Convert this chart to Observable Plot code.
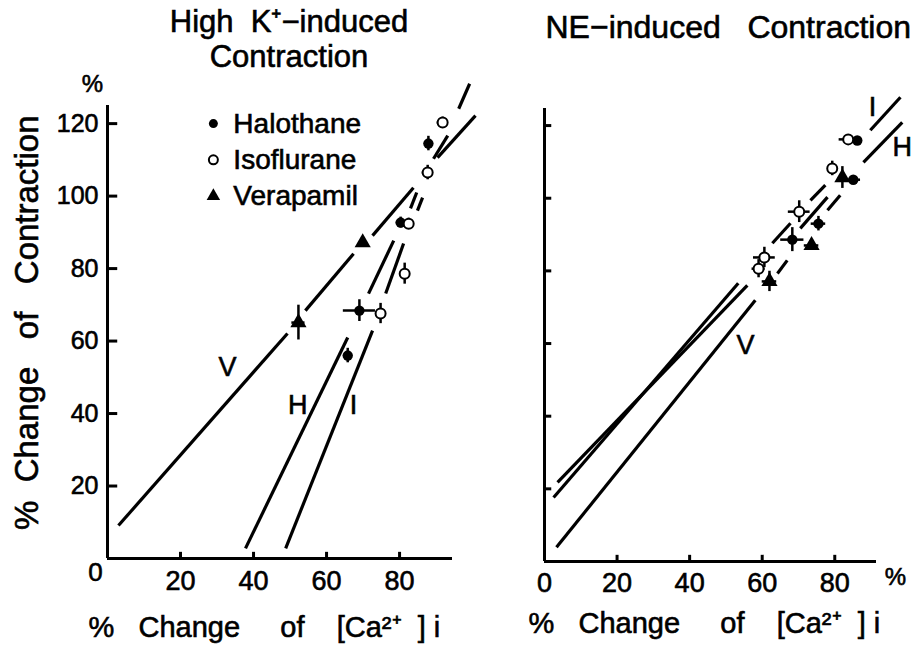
<!DOCTYPE html>
<html><head><meta charset="utf-8">
<script src="https://cdn.jsdelivr.net/npm/d3@7"></script>
<script src="https://cdn.jsdelivr.net/npm/@observablehq/plot@0.6"></script>
<style>
body{margin:0;background:#fff;}
#wrap{position:relative;width:915px;height:649px;overflow:hidden;background:#fff;}
#wrap svg{position:absolute;top:0;}
svg text{white-space:pre;stroke:#000;stroke-width:0.6px;}
g[aria-label="x-axis tick label"] text{font-size:27px;}
g[aria-label="y-axis tick label"] text{font-size:25px;}
</style></head><body><div id="wrap"></div>
<script>
// ---------- tick labels ----------
const xTicksLeft = [20, 40, 60, 80];
const xTicksRight = [0, 20, 40, 60, 80];
const yTicks = [20, 40, 60, 80, 100, 120];

// ---------- texts ----------
const titleLeft1 = "High  K⁺−induced";
const titleLeft2 = "Contraction";
const titleRight = "NE−induced   Contraction";
const xTitle = "%   Change     of    [Ca²⁺  ] i";
const yTitle = "%  Change   of   Contraction";
const groups = ["Halothane", "Isoflurane", "Verapamil"];

// ---------- High K+ panel: points (x, y, x-error, y-error) ----------
const kHalothane = [
  {x: 65.8, y: 56.0, xe: 0, ye: 2},
  {x: 69.0, y: 68.4, xe: 4.4, ye: 3},
  {x: 80.3, y: 92.7, xe: 1.2, ye: 1.5},
  {x: 87.9, y: 114.5, xe: 0, ye: 2}
];
const kIsoflurane = [
  {x: 74.8, y: 67.6, xe: 0, ye: 2.8},
  {x: 81.4, y: 78.6, xe: 0, ye: 2.9},
  {x: 82.5, y: 92.4, xe: 1.2, ye: 1.5},
  {x: 87.7, y: 106.5, xe: 1.5, ye: 2},
  {x: 91.8, y: 120.3, xe: 1.5, ye: 1.5}
];
const kVerapamil = [
  {x: 52.3, y: 65.1, xe: 1.8, ye: 4.8},
  {x: 69.9, y: 87.2, xe: 0, ye: 1}
];
// regression lines, drawn as broken segments [x1, y1, x2, y2]
const kLineV = [[3.0, 9.1, 49.3, 62.1], [54.2, 68.4, 67.4, 84.1], [72.6, 89.1, 83.8, 102.3], [90.4, 110.6, 100.8, 122.2]];
const kLineH = [[37.8, 2.8, 65.8, 61.0], [71.5, 73.1, 78.4, 87.7], [83.0, 96.6, 84.7, 101.0], [89.3, 110.3, 93.2, 116.7]];
const kLineI = [[48.8, 2.8, 72.6, 62.9], [76.2, 73.1, 81.1, 86.9], [84.9, 96.0, 86.3, 99.6], [96.2, 124.1, 99.2, 131.0]];
const kLineLabels = [{t: "V", x: 32.9, y: 52.7}, {t: "H", x: 52.1, y: 42.2}, {t: "I", x: 67.4, y: 42.2}];

// ---------- NE panel ----------
const neHalothane = [
  {x: 86.2, y: 115.9, xe: 0, ye: 0},
  {x: 85.1, y: 105.1, xe: 2, ye: 0},
  {x: 75.5, y: 93.0, xe: 2, ye: 2},
  {x: 68.3, y: 88.6, xe: 3.2, ye: 3.3}
];
const neIsoflurane = [
  {x: 83.7, y: 116.2, xe: 2.5, ye: 0},
  {x: 79.3, y: 108.2, xe: 0, ye: 2},
  {x: 70.2, y: 96.3, xe: 3, ye: 3},
  {x: 60.6, y: 83.7, xe: 3, ye: 2.8},
  {x: 59.0, y: 80.6, xe: 1.8, ye: 2.5}
];
const neVerapamil = [
  {x: 82.1, y: 105.7, xe: 0, ye: 3},
  {x: 73.6, y: 87.0, xe: 2, ye: 0},
  {x: 62.0, y: 77.1, xe: 2, ye: 2.8}
];
const neLineI = [[2.5, 17.6, 53.4, 76.6], [62.8, 87.6, 67.8, 93.1], [73.3, 99.4, 77.4, 103.6], [89.8, 118.7, 98.1, 127.8]];
const neLineH = [[3.6, 21.8, 55.9, 76.0], [70.5, 91.7, 78.0, 100.3], [87.9, 109.9, 98.6, 120.9]];
const neLineV = [[3.3, 3.9, 58.1, 71.9], [64.2, 79.3, 66.9, 82.9], [78.0, 96.7, 81.5, 100.8]];
const neLineLabels = [{t: "I", x: 90.4, y: 125}, {t: "H", x: 98.6, y: 114}, {t: "V", x: 55.4, y: 59.5}];

// ---------- helpers ----------
const FONT = "'Liberation Sans', Arial, Helvetica, sans-serif";
const lineMark = (segs) => Plot.link(segs, {x1: d => d[0], y1: d => d[1], x2: d => d[2], y2: d => d[3], stroke: "black", strokeWidth: 3.2, strokeLinecap: "butt"});
const errMarks = (pts) => [
  Plot.ruleY(pts.filter(d => d.xe > 0), {x1: d => d.x - d.xe, x2: d => d.x + d.xe, y: "y", stroke: "black", strokeWidth: 2.5}),
  Plot.ruleX(pts.filter(d => d.ye > 0), {x: "x", y1: d => d.y - d.ye, y2: d => d.y + d.ye, stroke: "black", strokeWidth: 2.5})
];
const pointMarks = (hal, iso, ver) => [
  ...errMarks(hal), ...errMarks(iso), ...errMarks(ver),
  Plot.dot(ver, {x: "x", y: "y", symbol: "triangle", r: 6, fill: "black"}),
  Plot.dot(hal, {x: "x", y: "y", r: 5.2, fill: "black"}),
  Plot.dot(iso, {x: "x", y: "y", r: 5, fill: "white", stroke: "black", strokeWidth: 2})
];
const mid = {textAnchor: "middle", lineAnchor: "middle"};

// ---------- left panel ----------
const legendRows = groups.map((g, i) => ({g, y: 120 - 10 * i}));
const left = Plot.plot({
  width: 460, height: 649,
  marginLeft: 107, marginRight: 8, marginTop: 105, marginBottom: 91,
  style: {background: "none", overflow: "visible", fontFamily: FONT, fontSize: "24px", color: "black"},
  x: {domain: [0, 94.5], ticks: xTicksLeft, tickSize: 0, tickPadding: 12, label: null},
  y: {domain: [0, 125], ticks: yTicks, tickSize: 0, tickPadding: 9, label: null},
  marks: [
    Plot.ruleX([0], {y1: 0, y2: 125, strokeWidth: 3}),
    Plot.ruleY([0], {x1: 0, x2: 94.5, strokeWidth: 3}),
    Plot.ruleX(xTicksLeft, {y1: 0, y2: 1.7, strokeWidth: 3}),
    Plot.ruleY(yTicks, {x1: 0, x2: 2.8, strokeWidth: 3}),
    lineMark(kLineV), lineMark(kLineH), lineMark(kLineI),
    ...pointMarks(kHalothane, kIsoflurane, kVerapamil),
    Plot.text(kLineLabels, {x: "x", y: "y", text: "t", fontSize: 27}),
    Plot.dot(legendRows.filter(d => d.g === "Halothane"), {x: () => 29, y: "y", r: 4.5, fill: "black"}),
    Plot.dot(legendRows.filter(d => d.g === "Isoflurane"), {x: () => 29, y: "y", r: 4.5, fill: "white", stroke: "black", strokeWidth: 2}),
    Plot.dot(legendRows.filter(d => d.g === "Verapamil"), {x: () => 29, y: "y", symbol: "triangle", r: 5, fill: "black"}),
    Plot.text(legendRows, {x: () => 29, y: "y", text: "g", dx: 20, textAnchor: "start", fontSize: 28}),
    Plot.text(["0"], {frameAnchor: "bottom-left", dx: -12, dy: 14, ...mid, fontSize: 26}),
    Plot.text(["%"], {frameAnchor: "top-left", dx: -15, dy: -21, ...mid}),
    Plot.text([titleLeft1], {frameAnchor: "top", dx: 9, dy: -73.5, textAnchor: "middle", lineAnchor: "bottom", fontSize: 31}),
    Plot.text([titleLeft2], {frameAnchor: "top", dx: 9, dy: -38.5, textAnchor: "middle", lineAnchor: "bottom", fontSize: 31}),
    Plot.text([xTitle], {frameAnchor: "bottom-left", dx: -19, dy: 78, textAnchor: "start", lineAnchor: "bottom", fontSize: 29}),
    Plot.text([yTitle], {frameAnchor: "left", dx: -70, dy: 198, rotate: -90, textAnchor: "start", lineAnchor: "bottom", fontSize: 33})
  ]
});
left.style.left = "0px";

// ---------- right panel ----------
const right = Plot.plot({
  width: 455, height: 649,
  marginLeft: 84, marginRight: 39, marginTop: 108, marginBottom: 88,
  style: {background: "none", overflow: "visible", fontFamily: FONT, fontSize: "24px", color: "black"},
  x: {domain: [0, 91.5], ticks: xTicksRight, tickSize: 0, tickPadding: 11, label: null},
  y: {domain: [0, 124.7], axis: null},
  marks: [
    Plot.ruleX([0], {y1: 0, y2: 124.7, strokeWidth: 3}),
    Plot.ruleY([0], {x1: 0, x2: 91.5, strokeWidth: 3}),
    Plot.ruleX(xTicksRight.filter(d => d > 0), {y1: 0, y2: 1.7, strokeWidth: 3}),
    Plot.ruleY(yTicks, {x1: 0, x2: 2, strokeWidth: 3}),
    lineMark(neLineI), lineMark(neLineH), lineMark(neLineV),
    ...pointMarks(neHalothane, neIsoflurane, neVerapamil),
    Plot.text(neLineLabels, {x: "x", y: "y", text: "t", fontSize: 27}),
    Plot.text(["%"], {frameAnchor: "bottom-right", dx: 19, dy: 16, ...mid}),
    Plot.text([titleRight], {frameAnchor: "top-left", dx: 1, dy: -71, textAnchor: "start", lineAnchor: "bottom", fontSize: 32}),
    Plot.text([xTitle], {frameAnchor: "bottom-left", dx: -16, dy: 71, textAnchor: "start", lineAnchor: "bottom", fontSize: 29})
  ]
});
right.style.left = "460px";

const wrap = document.getElementById("wrap");
wrap.appendChild(left);
wrap.appendChild(right);
</script></body></html>
